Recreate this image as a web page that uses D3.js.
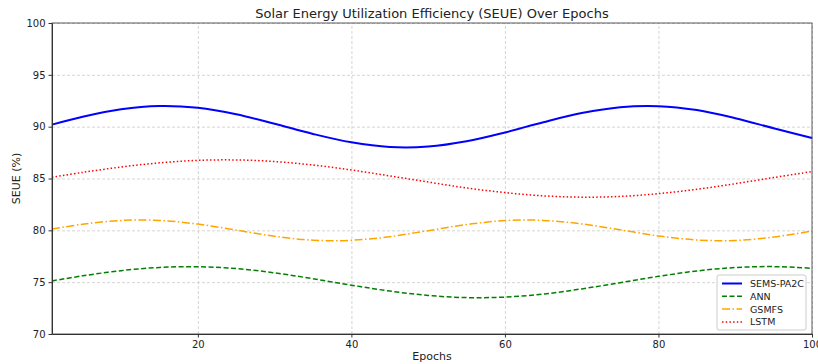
<!DOCTYPE html>
<html>
<head>
<meta charset="UTF-8">
<title>seue_over_epochs</title>
<style type="text/css">
	body { margin: 0; background: #fff; }
	text { font-family: "DejaVu Sans", sans-serif; fill: #222; }
	.axis path, .axis line { stroke: #333; }
	.axis text { font-size: 10px; fill: #222; }
	.grid line { stroke: #ccc; stroke-dasharray: 3,2; stroke-width: 0.8; }
	.grid path { display: none; }
</style>
<script type="text/javascript" src="https://d3js.org/d3.v7.min.js"></script>
</head>
<body>
<div id="div_main"></div>
<script type="text/javascript">

	// values, every 5 epochs
	var epochs = [1, 5, 10, 15, 20, 25, 30, 35, 40, 45, 50, 55, 60, 65, 70, 75, 80, 85, 90, 95, 100];
	var sems = [90.20, 90.96, 91.68, 91.99, 91.82, 91.20, 90.28, 89.30, 88.49, 88.04, 88.08, 88.59, 89.44, 90.43, 91.31, 91.88, 91.98, 91.60, 90.82, 89.85, 88.91];
	var ann = [75.12, 75.61, 76.11, 76.42, 76.49, 76.31, 75.90, 75.33, 74.71, 74.14, 73.72, 73.51, 73.56, 73.85, 74.35, 74.95, 75.56, 76.08, 76.41, 76.50, 76.34];
	var gsmfs = [80.12, 80.59, 80.95, 80.95, 80.60, 80.02, 79.43, 79.05, 79.04, 79.39, 79.97, 80.56, 80.94, 80.96, 80.62, 80.05, 79.46, 79.07, 79.02, 79.35, 79.93];
	var lstm = [85.12, 85.59, 86.11, 86.51, 86.75, 86.79, 86.64, 86.30, 85.82, 85.25, 84.66, 84.09, 83.64, 83.33, 83.20, 83.27, 83.54, 83.96, 84.50, 85.09, 85.67];
	var xTicks = [20, 40, 60, 80, 100];
	var yTicks = [70, 75, 80, 85, 90, 95, 100];

	var series = [
		{ name: "SEMS-PA2C", values: sems, color: "#0000ff", width: 2, dash: null },
		{ name: "ANN", values: ann, color: "#008000", width: 1.5, dash: "5,2.5" },
		{ name: "GSMFS", values: gsmfs, color: "#ffa500", width: 1.5, dash: "8,2.5,1.5,2.5" },
		{ name: "LSTM", values: lstm, color: "#ff0000", width: 1.5, dash: "1.5,2.2" }
	];

	var svg_w = 818, svg_h = 364;
	var m = { left: 52, right: 6, top: 23, bottom: 30 };

	var svg = d3.select("#div_main").append("svg")
		.attr("width", svg_w)
		.attr("height", svg_h);

	var scaleX = d3.scaleLinear().domain([1, 100]).range([m.left, svg_w - m.right]);
	var scaleY = d3.scaleLinear().domain([70, 100]).range([svg_h - m.bottom, m.top]);

	// grid
	svg.append("g")
		.attr("class", "grid")
		.attr("transform", "translate(0," + (svg_h - m.bottom) + ")")
		.call(d3.axisBottom(scaleX).tickValues(xTicks).tickSize(-(svg_h - m.top - m.bottom)).tickFormat(""));
	svg.append("g")
		.attr("class", "grid")
		.attr("transform", "translate(" + m.left + ",0)")
		.call(d3.axisLeft(scaleY).tickValues(yTicks).tickSize(-(svg_w - m.left - m.right)).tickFormat(""));

	// lines
	var line = d3.line()
		.x(function (d) { return scaleX(d[0]); })
		.y(function (d) { return scaleY(d[1]); })
		.curve(d3.curveCatmullRom.alpha(0.5));

	series.forEach(function (s) {
		svg.append("path")
			.datum(epochs.map(function (e, i) { return [e, s.values[i]]; }))
			.attr("fill", "none")
			.attr("stroke", s.color)
			.attr("stroke-width", s.width)
			.attr("stroke-dasharray", s.dash)
			.attr("d", line);
	});

	// frame
	svg.append("rect")
		.attr("x", m.left).attr("y", m.top)
		.attr("width", svg_w - m.left - m.right)
		.attr("height", svg_h - m.top - m.bottom)
		.attr("fill", "none")
		.attr("stroke", "#333")
		.attr("stroke-width", 0.8);

	// axes
	svg.append("g")
		.attr("class", "x axis")
		.attr("transform", "translate(0," + (svg_h - m.bottom) + ")")
		.call(d3.axisBottom(scaleX).tickValues(xTicks).tickSize(3.5).tickSizeOuter(0).tickPadding(3));
	svg.append("g")
		.attr("class", "y axis")
		.attr("transform", "translate(" + m.left + ",0)")
		.call(d3.axisLeft(scaleY).tickValues(yTicks).tickSize(3.5).tickSizeOuter(0).tickPadding(3));

	// title and labels
	svg.append("text")
		.attr("x", (m.left + svg_w - m.right) / 2)
		.attr("y", 18)
		.attr("text-anchor", "middle")
		.style("font-size", "13px")
		.text("Solar Energy Utilization Efficiency (SEUE) Over Epochs");
	svg.append("text")
		.attr("x", (m.left + svg_w - m.right) / 2)
		.attr("y", 360)
		.attr("text-anchor", "middle")
		.style("font-size", "11px")
		.text("Epochs");
	svg.append("text")
		.attr("transform", "translate(20," + ((m.top + svg_h - m.bottom) / 2) + ") rotate(-90)")
		.attr("text-anchor", "middle")
		.style("font-size", "11px")
		.text("SEUE (%)");

	// legend
	var lg = svg.append("g").attr("transform", "translate(717,275)");
	lg.append("rect")
		.attr("width", 89).attr("height", 55)
		.attr("rx", 2)
		.attr("fill", "#fff").attr("fill-opacity", 0.8)
		.attr("stroke", "#ccc");
	series.forEach(function (s, i) {
		var y = 8.5 + i * 12.8;
		lg.append("line")
			.attr("x1", 5).attr("x2", 25)
			.attr("y1", y).attr("y2", y)
			.attr("stroke", s.color)
			.attr("stroke-width", s.width)
			.attr("stroke-dasharray", s.dash);
		lg.append("text")
			.attr("x", 33).attr("y", y + 3.5)
			.style("font-size", "9.5px")
			.text(s.name);
	});

</script>
</body>
</html>
